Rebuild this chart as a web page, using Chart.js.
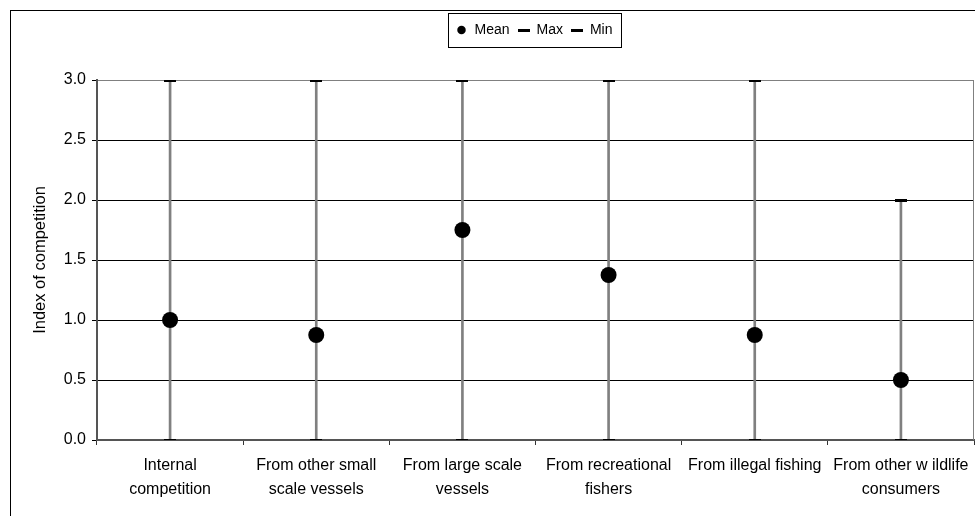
<!DOCTYPE html>
<html lang="en">

<head>
    <meta charset="UTF-8">
    <title>Index of competition</title>
    <script src="https://cdn.jsdelivr.net/npm/chart.js@4"></script>
    <style>
        body {
            margin: 0;
            padding: 0;
            background-color: white;
        }

        #chart-container {
            width: 975px;
            height: 516px;
            position: relative;
        }
    </style>
</head>

<body>
    <div id="chart-container">
        <canvas id="chart"></canvas>
    </div>

    <script>
        const categories = [
            ["Internal", "competition"],
            ["From other small", "scale vessels"],
            ["From large scale", "vessels"],
            ["From recreational", "fishers"],
            ["From illegal fishing"],
            ["From other w ildlife", "consumers"]
        ];
        const meanValues = [1.0, 0.875, 1.75, 1.375, 0.875, 0.5];
        const maxValues = [3, 3, 3, 3, 3, 2];
        const minValues = [0, 0, 0, 0, 0, 0];
        const yTicks = [0, 0.5, 1, 1.5, 2, 2.5, 3];

        const fontFamily = "'Liberation Sans', Arial, sans-serif";
        const legendShift = 47;
        const plotRight = 974;

        // vertical min-max lines as floating bars
        const ranges = minValues.map((v, i) => [v, maxValues[i]]);

        // short black dash used for max / min marks
        const dash = document.createElement("canvas");
        dash.width = 12;
        dash.height = 3;
        const dctx = dash.getContext("2d");
        dctx.fillStyle = "#000";
        dctx.fillRect(0, 0, 12, 3);

        // legend height / position, and stretch the plot to the right edge
        const placement = {
            id: "placement",
            beforeInit(chart) {
                const fit = chart.legend.fit;
                chart.legend.fit = function () {
                    fit.bind(chart.legend)();
                    this.height = 65;
                };
            },
            afterLayout(chart) {
                chart.legend.left += legendShift;
                chart.legend.right += legendShift;

                const area = chart.chartArea;
                area.right = plotRight;
                area.width = area.right - area.left;
                const x = chart.scales.x;
                x.right = plotRight;
                x.width = x.right - x.left;
                x.configure();
            }
        };

        const frame = {
            id: "frame",
            beforeDraw(chart) {
                const c = chart.ctx;
                c.save();
                c.fillStyle = "white";
                c.fillRect(0, 0, chart.width, chart.height);
                c.strokeStyle = "#000";
                c.lineWidth = 1;
                c.strokeRect(10.5, 10.5, 1000, 1000);
                c.restore();
            },
            afterDraw(chart) {
                const c = chart.ctx;
                const area = chart.chartArea;
                c.save();
                c.strokeStyle = "#808080";
                c.lineWidth = 1;
                c.beginPath();
                c.moveTo(area.right - 0.5, area.top);
                c.lineTo(area.right - 0.5, area.bottom);
                c.stroke();

                // box round the legend
                const boxes = chart.legend.legendHitBoxes;
                if (boxes && boxes.length) {
                    let l = Math.min(...boxes.map(b => b.left));
                    let r = Math.max(...boxes.map(b => b.left + b.width));
                    let t = Math.min(...boxes.map(b => b.top));
                    let btm = Math.max(...boxes.map(b => b.top + b.height));
                    c.strokeStyle = "#000";
                    c.strokeRect(Math.round(l - 7) + 0.5, Math.round(t - 10) + 0.5,
                        Math.round(r - l + 16), Math.round(btm - t + 20));
                }
                c.restore();
            }
        };

        const ctx = document.getElementById("chart").getContext("2d");
        new Chart(ctx, {
            data: {
                labels: categories,
                datasets: [
                    {
                        type: "line",
                        label: "Mean",
                        data: meanValues,
                        showLine: false,
                        pointStyle: "circle",
                        pointRadius: 8,
                        pointBackgroundColor: "#000",
                        pointBorderColor: "#000",
                        pointBorderWidth: 0,
                        order: 0
                    },
                    {
                        type: "line",
                        label: "Max",
                        data: maxValues,
                        showLine: false,
                        pointStyle: dash,
                        order: 1
                    },
                    {
                        type: "line",
                        label: "Min",
                        data: minValues,
                        showLine: false,
                        pointStyle: dash,
                        order: 2
                    },
                    {
                        type: "bar",
                        label: "range",
                        data: ranges,
                        backgroundColor: "#808080",
                        barThickness: 2,
                        order: 10
                    }
                ]
            },
            options: {
                responsive: true,
                maintainAspectRatio: false,
                animation: false,
                events: [],
                layout: {
                    padding: { top: 15, right: 1, bottom: 0, left: 0 }
                },
                plugins: {
                    tooltip: { enabled: false },
                    legend: {
                        position: "top",
                        labels: {
                            usePointStyle: true,
                            boxHeight: 6,
                            boxWidth: 12,
                            padding: 8,
                            color: "#000",
                            font: { family: fontFamily, size: 14 },
                            filter: item => item.text !== "range"
                        }
                    }
                },
                scales: {
                    x: {
                        type: "category",
                        offset: true,
                        afterFit: scale => { scale.height = 76; },
                        grid: {
                            offset: true,
                            drawOnChartArea: false,
                            drawTicks: true,
                            tickLength: 5,
                            color: "#333"
                        },
                        border: { color: "#555", width: 2 },
                        ticks: {
                            color: "#000",
                            maxRotation: 0,
                            autoSkip: false,
                            padding: 9,
                            font: { family: fontFamily, size: 16, lineHeight: 1.5 }
                        }
                    },
                    y: {
                        min: 0,
                        max: 3,
                        afterFit: scale => { scale.width = 97; },
                        afterBuildTicks: scale => {
                            scale.ticks = yTicks.map(v => ({ value: v }));
                        },
                        grid: {
                            color: c => (c.tick && c.tick.value === 3) ? "#808080" : "#000",
                            tickColor: "#000",
                            tickLength: 5,
                            lineWidth: 1
                        },
                        border: { color: "#555", width: 2 },
                        ticks: {
                            color: "#000",
                            padding: 6,
                            font: { family: fontFamily, size: 16 },
                            callback: v => Number(v).toFixed(1)
                        },
                        title: {
                            display: true,
                            text: "Index of competition",
                            color: "#000",
                            padding: { top: 31, bottom: 0 },
                            font: { family: fontFamily, size: 16.5 }
                        }
                    }
                }
            },
            plugins: [placement, frame]
        });
    </script>
</body>

</html>
